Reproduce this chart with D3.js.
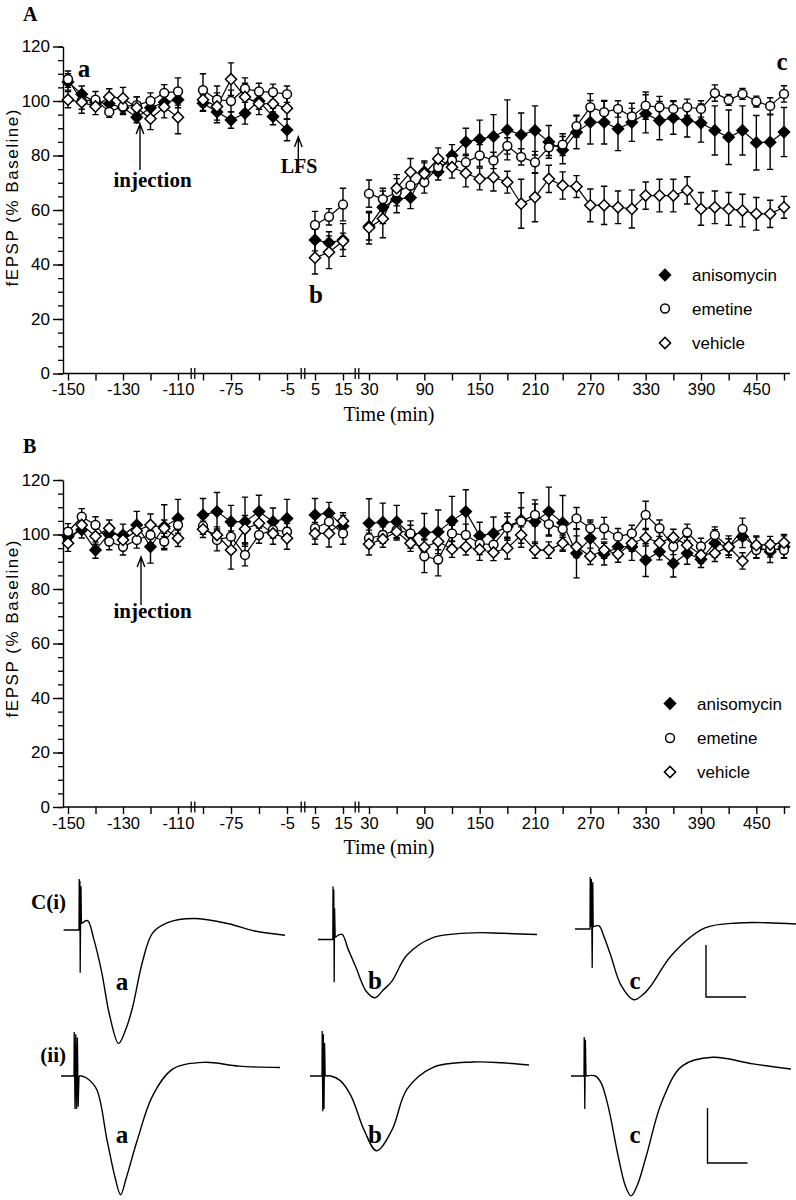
<!DOCTYPE html>
<html><head><meta charset="utf-8">
<script src="https://cdnjs.cloudflare.com/ajax/libs/d3/7.8.5/d3.min.js"></script>
<style>body{margin:0;background:#fff}svg{display:block}</style>
</head><body>
<svg id="c" width="796" height="1200"></svg>
<script>
// ---------------- DATA ----------------
const seriesNames = ["anisomycin", "emetine", "vehicle"];
// time (min) of each point, per axis segment
const timeSeg1 = [-150,-145,-140,-135,-130,-125,-120,-115,-110];
const timeSeg2 = [-110,-92.5,-75,-57.5,-40,-22.5,-5];
const timeSeg3 = [5,10,15];
const timeSeg4 = [30,45,60,75,90,105,120,135,150,165,180,195,210,225,240,255,270,285,300,315,330,345,360,375,390,405,420,435,450,465,480];
// axis ticks per segment and labelled ticks
const tickSeg1 = [-150,-140,-130,-120,-110];
const tickSeg2 = [-110,-75,-40,-5];
const tickSeg3 = [5,15];
const tickSeg4 = [30,60,90,120,150,180,210,240,270,300,330,360,390,420,450,480];
const labelSeg1 = [-150,-130,-110];
const labelSeg2 = [-75,-5];
const labelSeg3 = [5,15];
const labelSeg4 = [30,90,150,210,270,330,390,450];
const yMajorTicks = [0,20,40,60,80,100,120];
const yMinorTicks = [0,5,10,15,20,25,30,35,40,45,50,55,60,65,70,75,80,85,90,95,100,105,110,115,120];

// Panel A : fEPSP (% baseline), one sub-array per segment
const A_anisomycin = [
  [107,102.5,99.5,99,97.5,94,97.5,99.5,100.5],
  [99.2,96,93,95.5,100,94.3,89.4],
  [49,48,49],
  [54,61,64,64.5,74,74,80,85,86,87,89.4,87.6,89.2,85,82,88.5,92.2,92.2,89.8,92.2,95.3,92.8,93.8,92.8,91.9,89.2,86.7,89.2,84.7,84.9,88.6]];
const A_emetine = [
  [108,100,100.5,96,98,98.5,100,103,103.5],
  [104,100.5,100,104.5,103.5,103.2,102.5],
  [54.5,57.5,62],
  [66,64,66.5,69,70.2,75.7,78.2,77.5,80,78.2,83.5,79.5,77.5,83,84,90.8,97.7,95.9,97.1,94.3,98.3,97.7,97.1,97.7,97.1,102.9,100.4,102.6,99.8,98.2,102.6]];
const A_vehicle = [
  [100.5,99.5,98,101.5,101,97.5,93.5,97.8,94],
  [100.5,98,108,101.5,99,99,97.3],
  [42.5,44.5,48.5],
  [53.5,56.8,68,73.9,73.3,78.8,75.7,73.5,71.4,72,70.2,62.3,64.7,71.4,69,68.6,61.7,61.7,61,60.4,65.3,65.3,65.3,67.2,60.4,61,60.4,59.8,58.6,58.6,61]];
const A_anisomycin_sem = [
  [3,3,2,2,2,2,3,3,3],[3,4,3,4,3,3,4],[4,4,6],
  [5,6,5,4,4,3,4,5,7,8,11,8,9,6,5,6,8,8,8,7,7,7,6,6,7,9,10,9,10,10,9]];
const A_emetine_sem = [
  [3,3,3,2,3,3,3,3,5],[6,5,4,4,3,3,3],[5,3,6],
  [5,4,5,4,4,3,3,3,4,3,3,3,4,3,4,4,5,4,3,3,5,4,3,3,3,3,2,2,2,3,3]];
const A_vehicle_sem = [
  [3,4,3,3,4,4,4,4,6],[4,5,6,5,4,3,4],[6,6,3],
  [6,7,5,5,4,4,4,5,4,5,4,9,9,5,5,4,6,7,6,7,5,6,6,5,6,6,6,6,6,5,4]];

// Panel B
const B_anisomycin = [
  [99.2,101.7,94.3,100.4,99.8,103.5,95.5,102.9,105.9],
  [107.2,108.4,104.7,104.7,108.4,104.7,105.9],
  [107.2,107.8,103],
  [104.1,104.5,104.7,100,100.7,101,105,108.4,99.5,100.4,102.9,105.3,104.7,108.4,104.3,93.1,98.6,92.8,95.5,95.5,90.6,93.7,89.4,93.1,90.9,96.8,95.5,99.2,95.5,93.7,95.5]];
const B_emetine = [
  [101,106.5,103.5,97.4,95.5,98,99.8,97.4,103.5],
  [103.1,98,99.2,92.5,99.8,101.7,101],
  [102.3,104.7,100.4],
  [98.6,99.8,101.7,100.4,92,90.8,100.4,99.8,96.6,96.3,102.5,104.8,107.2,103.8,102,105.9,102.3,102.3,99.2,100.4,107.2,102.3,95.6,100.8,95.6,99.8,95.4,102,94.3,94.7,94.3]];
const B_vehicle = [
  [96.8,103.5,99.4,102.3,98,101.4,103.5,102.3,98.6],
  [101.9,99.8,94.3,102,104.1,100.4,98.6],
  [100.4,100.4,105],
  [96.5,98.3,101,96.8,95.4,97.4,94.6,95.5,94.5,93.4,95,99.8,94.3,94.3,96.8,95.5,92,94.3,92.8,96.8,98.8,97,98.9,96.1,92.5,93.1,95.5,90.3,96.1,96.3,97]];
const B_anisomycin_sem = [
  [3,3,3,3,4,5,6,8,7],[6,7,6,9,6,5,7],[6,4,4],
  [9,7,6,5,7,8,9,8,5,6,5,10,8,9,10,9,6,4,4,5,6,3,5,4,3,5,4,4,4,4,4]];
const B_emetine_sem = [
  [3,3,3,3,3,3,3,3,3],[3,4,4,4,3,3,3],[4,3,4],
  [3,3,3,3,6,6,3,4,4,4,4,5,4,4,3,4,3,4,3,3,5,3,3,3,3,3,3,4,3,3,3]];
const B_vehicle_sem = [
  [3,3,3,3,3,3,4,3,3],[3,3,7,5,4,4,4],[4,5,3],
  [4,3,3,3,3,3,3,3,4,3,4,3,3,3,3,4,3,3,3,3,3,4,3,3,3,3,3,3,3,3,3]];

// Panel C : example fEPSP traces (time in ms, voltage in mV re. baseline)
const traceIa_artT = [0,3.85,3.9,4.0,4.08,4.15,4.25,4.35,4.45];
const traceIa_artV = [0,0,0.49,0.05,0.47,-0.41,0.1,0.42,0.06];
const traceIa_t = [4.45,6.0,7.5,9.5,11.5,13.75,15.5,17.2,19.75,22.25,26,32.5,41.25,47.75,55.35];
const traceIa_v = [0.06,0.09,-0.08,-0.40,-0.82,-1.09,-0.96,-0.75,-0.30,-0.03,0.07,0.11,0.06,-0.01,-0.05];
const traceIb_artT = [0,3.7,3.75,3.85,3.95,4.05,4.15,4.3];
const traceIb_artV = [0,0,0.51,0.0,0.48,-0.41,0.3,0.02];
const traceIb_t = [4.3,6,7.5,9.5,12.1,14.25,16.2,18.5,22.25,28.6,38.8,46,54.75];
const traceIb_v = [0.02,0.05,-0.09,-0.27,-0.50,-0.56,-0.49,-0.40,-0.15,0.016,0.064,0.06,0.048];
const traceIc_artT = [0,3.75,3.8,3.95,4.1,4.3,4.45,4.55];
const traceIc_artV = [0,0,0.5,0.02,0.48,-0.375,0.45,0.02];
const traceIc_t = [4.55,6,7.3,8.9,11.5,14.65,17,19.1,24.2,32.5,40.75,48,55.25];
const traceIc_v = [0.02,0.03,-0.08,-0.25,-0.54,-0.68,-0.63,-0.54,-0.25,0.01,0.058,0.06,0.048];
const traceIIa_artT = [0,3.25,3.3,3.5,3.7,3.9,4.1,4.3,4.5];
const traceIIa_artV = [0,0,0.4,-0.3,0.38,-0.3,0.35,-0.28,0];
const traceIIa_t = [4.5,5.1,6.5,8.9,11.5,13.5,14.9,16.3,19.1,22.9,28,35.65,44.5,54.75];
const traceIIa_v = [0,0,-0.02,-0.12,-0.58,-0.92,-1.08,-0.93,-0.58,-0.18,0.064,0.124,0.09,0.077];
const traceIIb_artT = [0,3.0,3.05,3.2,3.35,3.5,3.65,3.8];
const traceIIb_artV = [0,0,0.41,-0.32,0.38,-0.3,0.3,0];
const traceIIb_t = [3.8,5.2,7.5,10.25,13.5,16.65,20.5,24.25,30.65,40.75,48,54.75];
const traceIIb_v = [0,0,-0.04,-0.18,-0.49,-0.68,-0.49,-0.12,0.077,0.127,0.12,0.1];
const traceIIc_artT = [0,3.25,3.3,3.45,3.6,3.75];
const traceIIc_artV = [0,0,0.355,-0.3,0.33,0];
const traceIIc_t = [3.75,6.1,7.5,9.25,11.8,13.6,15,16.5,18.8,22.65,27.75,35.4,45.5,55];
const traceIIc_v = [0,0,-0.06,-0.27,-0.73,-1.0,-1.09,-1.0,-0.73,-0.24,0.09,0.17,0.11,0.064];
const scaleBarMs = 10, scaleBarMv = 0.5;

// ---------------- DRAWING ----------------
const SANS = "'Liberation Sans', Arial, Helvetica, sans-serif";
const SERIF = "'Liberation Serif', 'Times New Roman', serif";
const svg = d3.select("#c");
const segTimes = [timeSeg1, timeSeg2, timeSeg3, timeSeg4];
const segTicks = [tickSeg1, tickSeg2, tickSeg3, tickSeg4];
const segLabels = [labelSeg1, labelSeg2, labelSeg3, labelSeg4];
const segRange = [[68,178],[203,287],[315,343],[369,784]];
const xs = segTimes.map((t,i) => d3.scaleLinear().domain([t[0], t[t.length-1]]).range(segRange[i]));
const breaks = [193, 303, 357];
const AX = 63;

const diamond = d3.symbol().type(d3.symbolSquare).size(62)();
const circle = d3.symbol().type(d3.symbolCircle).size(62)();
const markerStyle = {
  anisomycin: {path: diamond, rot: 45, fill: "#000"},
  emetine: {path: circle, rot: 0, fill: "#fff"},
  vehicle: {path: diamond, rot: 45, fill: "#fff"}
};

function drawMarker(g, name, x, y) {
  const s = markerStyle[name];
  g.append("path").attr("d", s.path)
    .attr("transform", `translate(${x},${y}) rotate(${s.rot})`)
    .attr("fill", s.fill).attr("stroke", "#000").attr("stroke-width", 1.5);
}

function drawPanel(cfg) {
  const y = d3.scaleLinear().domain([0,120]).range([cfg.y0, cfg.y120]);
  const g = svg.append("g");
  // y axis
  const yMin = g.append("g").attr("transform", `translate(${AX},0)`)
    .call(d3.axisLeft(y).tickValues(yMinorTicks).tickSize(5).tickSizeOuter(0).tickFormat(""));
  yMin.select(".domain").remove();
  yMin.selectAll("line").attr("stroke-width", 1.3);
  const yMaj = g.append("g").attr("transform", `translate(${AX},0)`)
    .call(d3.axisLeft(y).tickValues(yMajorTicks).tickSize(10).tickSizeOuter(0).tickPadding(3).tickFormat(d => String(d)));
  yMaj.attr("font-size", 17).attr("font-family", SANS);
  yMaj.selectAll("line,path").attr("stroke-width", 1.4);
  // x axis
  const xa = cfg.y0;
  g.append("line").attr("x1", AX).attr("x2", 790).attr("y1", xa).attr("y2", xa)
    .attr("stroke", "#000").attr("stroke-width", 1.4);
  segTimes.forEach((t, i) => {
    const a = g.append("g").attr("transform", `translate(0,${xa})`)
      .call(d3.axisBottom(xs[i]).tickValues(segTicks[i]).tickSize(7).tickSizeOuter(0).tickPadding(3)
        .tickFormat(d => segLabels[i].includes(d) ? String(d) : ""));
    a.select(".domain").remove();
    a.attr("font-size", 16.5).attr("font-family", SANS);
    a.selectAll("line").attr("stroke-width", 1.4);
  });
  breaks.forEach(bx => {
    [-1.8, 1.8].forEach(o => g.append("line").attr("x1", bx+o).attr("x2", bx+o)
      .attr("y1", xa-5.5).attr("y2", xa+5.5).attr("stroke", "#000").attr("stroke-width", 1.3));
  });
  // axis titles
  g.append("text").attr("transform", `translate(18,${cfg.titleY}) rotate(-90)`)
    .attr("text-anchor", "middle").attr("font-family", SANS).attr("font-size", 17)
    .attr("textLength", 177).attr("lengthAdjust", "spacing")
    .text("fEPSP (% Baseline)");
  g.append("text").attr("x", 389).attr("y", cfg.y0 + 47).attr("text-anchor", "middle")
    .attr("font-family", SERIF).attr("font-size", 20).text("Time (min)");
  g.append("text").attr("x", 23).attr("y", cfg.letterY).attr("font-family", SERIF)
    .attr("font-weight", "bold").attr("font-size", 20).text(cfg.letter);

  // error bars and lines
  const layer = g.append("g");
  seriesNames.forEach(name => {
    cfg.data[name].forEach((seg, si) => {
      seg.forEach((v, k) => {
        const x = xs[si](segTimes[si][k]);
        const e = cfg.sem[name][si][k];
        const y1 = y(v + e), y2 = y(v - e);
        layer.append("path")
          .attr("d", `M${x},${y1}V${y2}M${x-3.2},${y1}H${x+3.2}M${x-3.2},${y2}H${x+3.2}`)
          .attr("stroke", "#000").attr("stroke-width", 1.4).attr("fill", "none");
      });
      const line = d3.line().x((d,k) => xs[si](segTimes[si][k])).y(d => y(d));
      layer.append("path").datum(seg).attr("d", line)
        .attr("fill", "none").attr("stroke", "#000").attr("stroke-width", 1.2);
    });
  });
  seriesNames.forEach(name => {
    cfg.data[name].forEach((seg, si) => {
      seg.forEach((v, k) => drawMarker(layer, name, xs[si](segTimes[si][k]), y(v)));
    });
  });
  // legend
  seriesNames.forEach((name, i) => {
    const ly = cfg.legendY[i];
    drawMarker(g, name, cfg.legendX, ly);
    g.append("text").attr("x", cfg.legendX + 27).attr("y", ly + 6)
      .attr("font-family", SANS).attr("font-size", 17).text(name);
  });
  return {g, y};
}

function arrow(g, x, yTop, yBot) {
  g.append("path").attr("d", `M${x},${yBot}V${yTop}M${x-3.8},${yTop+10}L${x},${yTop}L${x+3.8},${yTop+10}`)
    .attr("fill", "none").attr("stroke", "#000").attr("stroke-width", 1.4);
}
function boldText(g, x, y, txt, size, anchor) {
  g.append("text").attr("x", x).attr("y", y).attr("text-anchor", anchor || "middle")
    .attr("font-family", SERIF).attr("font-weight", "bold").attr("font-size", size).text(txt);
}

const pA = drawPanel({
  y0: 373.5, y120: 46.5, titleY: 198, letter: "A", letterY: 21,
  data: {anisomycin: A_anisomycin, emetine: A_emetine, vehicle: A_vehicle},
  sem: {anisomycin: A_anisomycin_sem, emetine: A_emetine_sem, vehicle: A_vehicle_sem},
  legendX: 665, legendY: [275, 308.5, 343]
});
boldText(pA.g, 84, 77, "a", 25);
boldText(pA.g, 316, 303, "b", 25);
boldText(pA.g, 782, 70, "c", 25);
boldText(pA.g, 152.5, 187, "injection", 21);
arrow(pA.g, 140, 124, 170);
boldText(pA.g, 299, 173, "LFS", 20);
arrow(pA.g, 298.3, 137, 159);

const pB = drawPanel({
  y0: 807, y120: 480, titleY: 629, letter: "B", letterY: 453,
  data: {anisomycin: B_anisomycin, emetine: B_emetine, vehicle: B_vehicle},
  sem: {anisomycin: B_anisomycin_sem, emetine: B_emetine_sem, vehicle: B_vehicle_sem},
  legendX: 670, legendY: [703.5, 738, 772]
});
boldText(pB.g, 152.5, 618, "injection", 21);
arrow(pB.g, 141, 557, 605);

// ---------------- Panel C traces ----------------
const gC = svg.append("g");
const traces = [
  {artT: traceIa_artT, artV: traceIa_artV, t: traceIa_t, v: traceIa_v, x0: 63.6, base: 930, pxmv: 104, lab: "a"},
  {artT: traceIb_artT, artV: traceIb_artV, t: traceIb_t, v: traceIb_v, x0: 318, base: 939.5, pxmv: 104, lab: "b"},
  {artT: traceIc_artT, artV: traceIc_artV, t: traceIc_t, v: traceIc_v, x0: 575, base: 929, pxmv: 104, lab: "c"},
  {artT: traceIIa_artT, artV: traceIIa_artV, t: traceIIa_t, v: traceIIa_v, x0: 61, base: 1076, pxmv: 110, lab: "a"},
  {artT: traceIIb_artT, artV: traceIIb_artV, t: traceIIb_t, v: traceIIb_v, x0: 310, base: 1076, pxmv: 110, lab: "b"},
  {artT: traceIIc_artT, artV: traceIIc_artV, t: traceIIc_t, v: traceIIc_v, x0: 571, base: 1076, pxmv: 110, lab: "c"}
];
const labelX = [122, 375, 635, 122, 375, 635];
const labelY = [990, 989, 989, 1143, 1143, 1143];
traces.forEach((tr, i) => {
  const x = d3.scaleLinear().domain([0, 55]).range([tr.x0, tr.x0 + 220]);
  const y = d3.scaleLinear().domain([-1, 1]).range([tr.base + tr.pxmv, tr.base - tr.pxmv]);
  const art = tr.artT.map((t, k) => [t, tr.artV[k]]);
  const wav = tr.t.map((t, k) => [t, tr.v[k]]);
  gC.append("path").datum(art)
    .attr("d", d3.line().x(d => x(d[0])).y(d => y(d[1])))
    .attr("fill", "none").attr("stroke", "#000").attr("stroke-width", 1.3);
  gC.append("path").datum(wav)
    .attr("d", d3.line().curve(d3.curveCatmullRom.alpha(0.5)).x(d => x(d[0])).y(d => y(d[1])))
    .attr("fill", "none").attr("stroke", "#000").attr("stroke-width", 1.4);
  boldText(gC, labelX[i], labelY[i], tr.lab, 25);
  tr.xs = x; tr.ys = y;
});
// scale bars (drawn with the trace scales of the right-hand traces)
[[traces[2], 706, 997], [traces[5], 707.5, 1163]].forEach(([tr, bx, by]) => {
  const w = tr.xs(scaleBarMs) - tr.xs(0);
  const h = tr.ys(0) - tr.ys(scaleBarMv);
  gC.append("path").attr("d", `M${bx},${by-h}V${by}H${bx+w}`)
    .attr("fill", "none").attr("stroke", "#000").attr("stroke-width", 1.4);
});
boldText(gC, 66, 909, "C(i)", 21, "end");
boldText(gC, 66, 1062, "(ii)", 21, "end");
</script>
</body></html>
